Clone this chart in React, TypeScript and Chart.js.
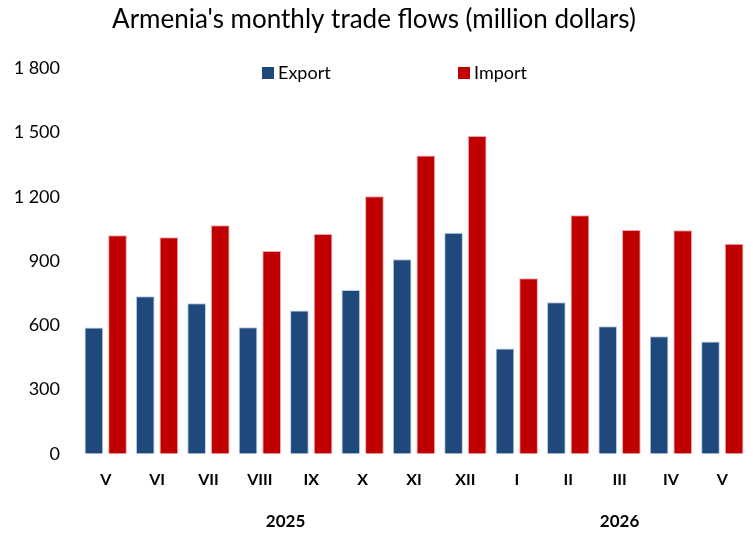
import React, { useEffect, useRef } from "react";
import { Chart, registerables } from "chart.js";

Chart.register(...registerables);

const categories = ["V", "VI", "VII", "VIII", "IX", "X", "XI", "XII", "I", "II", "III", "IV", "V"];
const exportValues = [589, 735, 703, 591, 669, 765, 908, 1032, 491, 707, 595, 549, 524];
const importValues = [1020, 1011, 1067, 947, 1026, 1202, 1393, 1483, 819, 1113, 1045, 1044, 981];
const years = [
  { label: "2025", from: 0, to: 7 },
  { label: "2026", from: 8, to: 12 },
];
const yTicks = [0, 300, 600, 900, 1200, 1500, 1800];

const EXPORT_COLOR = "#1F497D";
const IMPORT_COLOR = "#C00000";
const FONT = "Lato, 'Open Sans', sans-serif";

const fmt = (v: number) => {
  const s = String(Math.round(v));
  return s.replace(/\B(?=(\d{3})+(?!\d))/g, " ");
};

const extrasPlugin = {
  id: "extras",
  afterDraw(chart: any) {
    const ctx = chart.ctx;
    const x = chart.scales.x;
    ctx.save();
    // year labels
    ctx.fillStyle = "#000";
    ctx.font = `bold 17px ${FONT}`;
    ctx.textAlign = "center";
    ctx.textBaseline = "middle";
    years.forEach((y) => {
      const cx = (x.getPixelForValue(y.from) + x.getPixelForValue(y.to)) / 2;
      ctx.fillText(y.label, cx, 522);
    });
    // legend
    const items = [
      { label: "Export", color: EXPORT_COLOR, x: 262 },
      { label: "Import", color: IMPORT_COLOR, x: 458 },
    ];
    ctx.font = `18px ${FONT}`;
    ctx.textAlign = "left";
    items.forEach((it) => {
      ctx.fillStyle = it.color;
      ctx.fillRect(it.x, 67, 12, 12);
      ctx.fillStyle = "#000";
      ctx.fillText(it.label, it.x + 16, 73);
    });
    ctx.restore();
  },
};

export default function App() {
  const ref = useRef<HTMLCanvasElement | null>(null);
  useEffect(() => {
    if (!ref.current) return;
    const chart = new Chart(ref.current, {
      type: "bar",
      data: {
        labels: categories,
        datasets: [
          {
            label: "Export",
            data: exportValues,
            backgroundColor: EXPORT_COLOR,
            borderColor: "rgba(180,200,225,0.9)",
            borderWidth: 1,
            categoryPercentage: 0.92,
            barPercentage: 0.79,
          },
          {
            label: "Import",
            data: importValues,
            backgroundColor: IMPORT_COLOR,
            borderColor: "rgba(235,160,160,0.9)",
            borderWidth: 1,
            categoryPercentage: 0.92,
            barPercentage: 0.79,
          },
        ],
      },
      options: {
        animation: false,
        responsive: false,
        layout: { padding: { left: 0, right: 5, top: 0, bottom: 29 } },
        plugins: {
          legend: { display: false },
          tooltip: { enabled: false },
          title: {
            display: true,
            text: "Armenia's monthly trade flows (million dollars)",
            color: "#000",
            font: { family: FONT, size: 26, weight: "normal" },
            padding: { top: 4, bottom: 33 },
          },
        },
        scales: {
          x: {
            grid: { display: false, drawTicks: false },
            border: { display: false },
            ticks: {
              color: "#000",
              font: { family: FONT, size: 16, weight: "bold" },
              padding: 16,
              autoSkip: false,
              maxRotation: 0,
            },
          },
          y: {
            min: 0,
            max: 1800,
            afterBuildTicks: (axis: any) => {
              axis.ticks = yTicks.map((v) => ({ value: v }));
            },
            afterFit: (axis: any) => {
              axis.width = 80;
            },
            grid: { display: false, drawTicks: false },
            border: { display: false },
            ticks: {
              color: "#000",
              font: { family: FONT, size: 18 },
              padding: 20,
              callback: (v: any) => fmt(Number(v)),
            },
          },
        },
      },
      plugins: [extrasPlugin],
    });
    return () => chart.destroy();
  }, []);
  return (
    <div style={{ position: "absolute", left: 0, top: 0, width: 753, height: 534 }}>
      <canvas ref={ref} width={753} height={534} />
    </div>
  );
}
